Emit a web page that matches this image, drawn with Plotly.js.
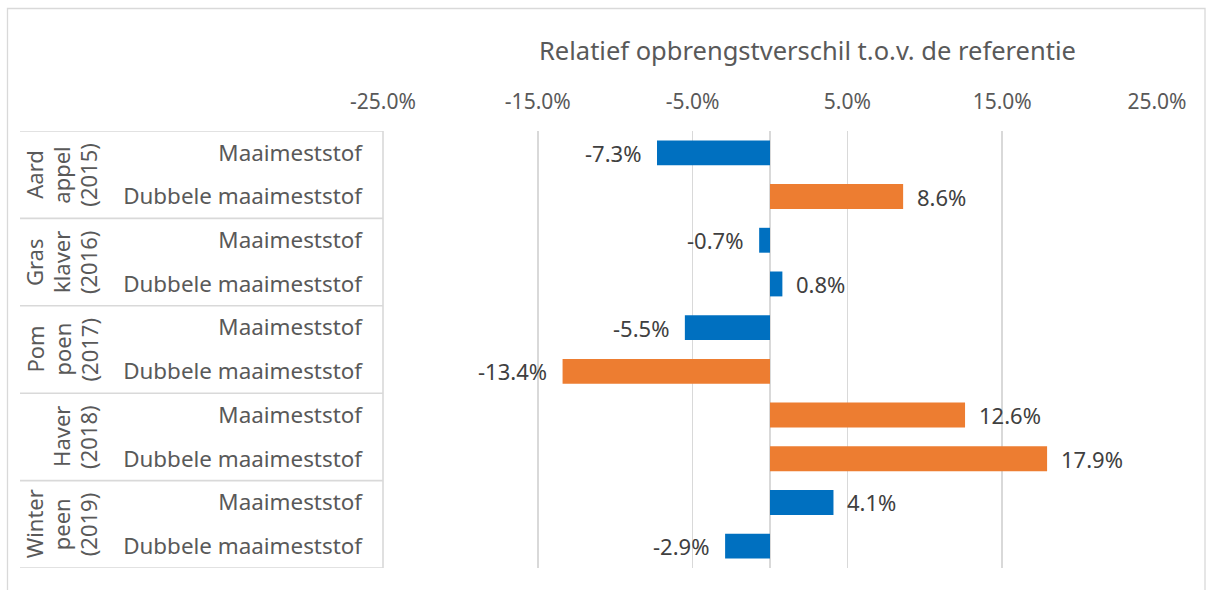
<!DOCTYPE html>
<html>
<head>
<meta charset="utf-8">
<script src="https://cdn.plot.ly/plotly-3.0.1.min.js"></script>
<style>html,body{margin:0;padding:0;background:#fff;}#chart{width:1206px;height:590px;}</style>
</head>
<body>
<div id="chart"></div>
<script>
// ---- data ----
const groupLines = [["Aard","appel","(2015)"],["Gras","klaver","(2016)"],["Pom","poen","(2017)"],["Haver","(2018)"],["Winter","peen","(2019)"]];
const subLabels = ["Maaimeststof","Dubbele maaimeststof"];
const values = [-0.073, 0.086, -0.007, 0.008, -0.055, -0.134, 0.126, 0.179, 0.041, -0.029];
const barColors = ["#0070C0","#ED7D31","#0070C0","#0070C0","#0070C0","#ED7D31","#ED7D31","#ED7D31","#0070C0","#0070C0"];
const xTickVals = [-0.25,-0.15,-0.05,0.05,0.15,0.25];
const titleText = "Relatief opbrengstverschil t.o.v. de referentie";

// ---- layout helpers ----
const W=1206, H=590, L=383, R=49, T=131, B=22;
const PW=W-L-R, PH=H-T-B;
const px = x => (x-L)/PW;
const py = y => 1-(y-T)/PH;
const FONT = "Noto Sans, sans-serif";
const GRID = "#d9d9d9";
const pct = v => (v*100).toFixed(1)+'%';

const cats=[], tickText=[];
groupLines.forEach((g,gi)=>subLabels.forEach((s,si)=>{cats.push(g.join(" ")+" | "+s); tickText.push(s);}));

const annotations=[];
// data labels
values.forEach((v,i)=>{
  annotations.push({x:v,y:i,xref:'x',yref:'y',text:pct(v),showarrow:false,
    xanchor:v<0?'right':'left',yanchor:'middle',xshift:v<0?-14:12,
    font:{family:FONT,size:22,color:'#404040'}});
});
// group labels (rotated)
groupLines.forEach((g,gi)=>{
  const n=g.length;
  g.forEach((t,li)=>{
    annotations.push({x:px(88-27*(n-1-li)),y:gi*2+0.5,xref:'paper',yref:'y',text:t,showarrow:false,
      textangle:-90,xanchor:'center',yanchor:'middle',font:{family:FONT,size:22,color:'#595959'}});
  });
});
// title
annotations.push({x:px(807),y:py(50),xref:'paper',yref:'paper',text:titleText,showarrow:false,
  xanchor:'center',yanchor:'middle',font:{family:FONT,size:25.5,color:'#595959'}});

const shapes=[];
// chart border
shapes.push({type:'rect',xref:'paper',yref:'paper',x0:px(7.5),x1:px(1205),y0:py(8.5),y1:py(600),line:{color:GRID,width:1.3},fillcolor:'rgba(0,0,0,0)',layer:'below'});
// label box
for(let k=0;k<=groupLines.length;k++){
  shapes.push({type:'line',xref:'paper',yref:'y',x0:px(20),x1:px(383),y0:k*2-0.5,y1:k*2-0.5,line:{color:GRID,width:1.6}});
}
shapes.push({type:'line',xref:'paper',yref:'y',x0:px(383),x1:px(383),y0:-0.5,y1:cats.length-0.5,line:{color:GRID,width:1.6}});

const trace={type:'bar',orientation:'h',x:values,y:cats.map((c,i)=>i),marker:{color:barColors},hoverinfo:'skip'};

const layout={
  width:W,height:H,margin:{l:L,r:R,t:T,b:B},paper_bgcolor:'#fff',plot_bgcolor:'#fff',
  showlegend:false,bargap:0.43,
  xaxis:{side:'top',range:[-0.25,0.25],tickmode:'array',tickvals:xTickVals,ticktext:xTickVals.map(pct),showgrid:true,gridcolor:GRID,gridwidth:1.6,
    zeroline:true,zerolinecolor:GRID,zerolinewidth:1.6,showline:false,ticks:'',ticklabelstandoff:17,
    tickfont:{family:FONT,size:21,color:'#595959'},fixedrange:true},
  yaxis:{range:[cats.length-0.5,-0.5],tickmode:'array',tickvals:cats.map((c,i)=>i),ticktext:tickText,showgrid:false,zeroline:false,
    showline:false,ticks:'',ticklabelstandoff:20,tickfont:{family:FONT,size:22.4,color:'#595959'},fixedrange:true},
  annotations:annotations,shapes:shapes,font:{family:FONT}
};
Plotly.newPlot('chart',[trace],layout,{displayModeBar:false,staticPlot:true});
</script>
</body>
</html>
